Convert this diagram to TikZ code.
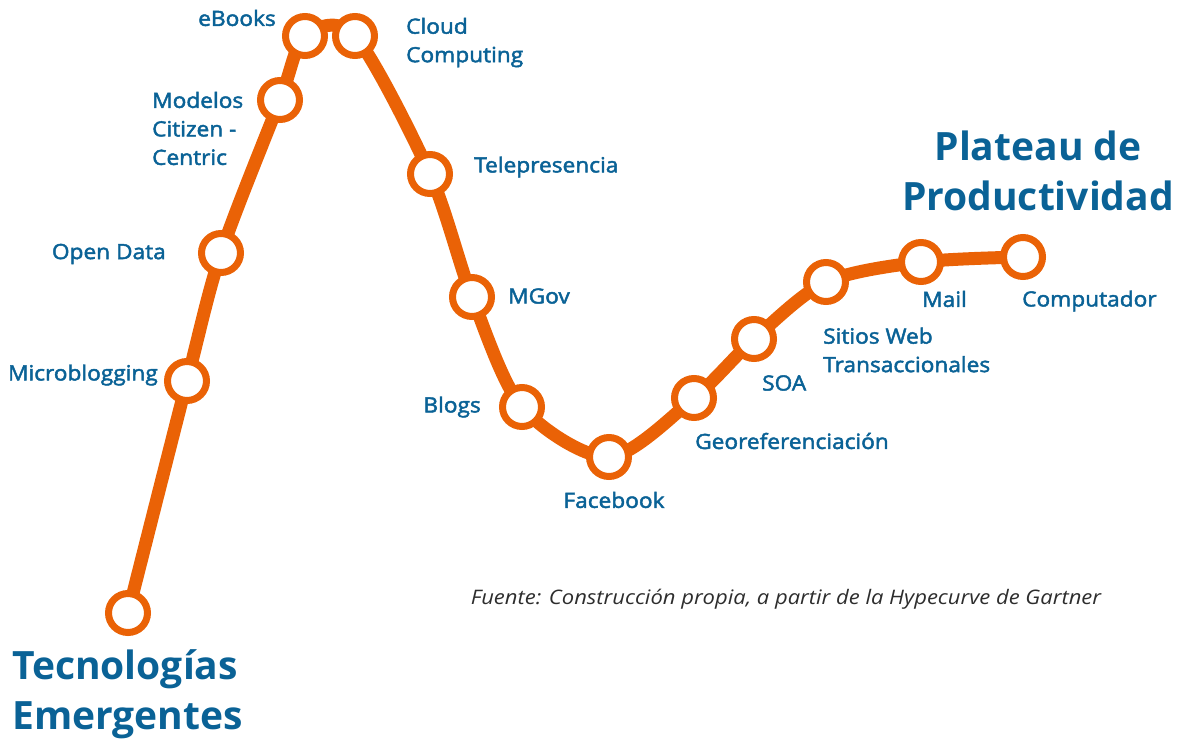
\documentclass[tikz,border=0pt]{standalone}
\usepackage{fontspec}
\setmainfont{Open Sans}
\newfontfamily\labfont{Open Sans}[FakeStretch=1.08, FakeBold=2.2]
\newfontfamily\titfont{Open Sans Bold}
\newfontfamily\srcfont{Open Sans Italic}[FakeStretch=1.1]
\usetikzlibrary{backgrounds}
\definecolor{hypeorange}{RGB}{234,98,6}
\definecolor{hypeblue}{RGB}{10,98,150}
\definecolor{srcgray}{RGB}{45,45,45}
\tikzset{
  stop/.style={circle, draw=hypeorange, line width=7pt, fill=white, minimum size=39pt, inner sep=0pt},
  lab/.style={text=hypeblue, font=\labfont\fontsize{21}{28.5}\selectfont, inner sep=0pt, align=left},
  tit/.style={text=hypeblue, font=\titfont\fontsize{39}{50}\selectfont, inner sep=0pt},
  curve/.style={draw=hypeorange, line width=13pt}
}
\begin{document}
\begin{tikzpicture}[x=1pt,y=-1pt]
\useasboundingbox (0,0) rectangle (1184,742);
% stops
\node[stop] (s0) at (128,613) {};
\node[stop] (s1) at (187,381) {};
\node[stop] (s2) at (221,253) {};
\node[stop] (s3) at (280,100) {};
\node[stop] (s4) at (305,36) {};
\node[stop] (s5) at (355,36) {};
\node[stop] (s6) at (430,174) {};
\node[stop] (s7) at (472,297) {};
\node[stop] (s8) at (522,407) {};
\node[stop] (s9) at (609,457) {};
\node[stop] (s10) at (694,398) {};
\node[stop] (s11) at (754,339) {};
\node[stop] (s12) at (826,282) {};
\node[stop] (s13) at (921,262) {};
\node[stop] (s14) at (1023,257) {};
\begin{pgfonlayer}{background}
\draw[curve] plot[smooth, tension=0.5] coordinates {(s0.center) (s1.center) (s2.center) (s3.center) (s4.center) (s5.center) (s6.center) (s7.center) (s8.center) (s9.center) (s10.center) (s11.center) (s12.center) (s13.center) (s14.center)};
\end{pgfonlayer}
% labels
\node[lab, anchor=east] (l4) at (276,18) {eBooks};
\node[lab, anchor=west] (l5) at (406,42.5) {Cloud\\Computing};
\node[lab, anchor=west] (l3) at (152,128.5) {Modelos\\Citizen -\\Centric};
\node[lab, anchor=east] (l2) at (166,254) {Open Data};
\node[lab, anchor=east] (l1) at (158,375) {Microblogging};
\node[lab, anchor=west] (l6) at (474,167) {Telepresencia};
\node[lab, anchor=west] (l7) at (508,296) {MGov};
\node[lab, anchor=east] (l8) at (481,407) {Blogs};
\node[lab] (l9) at (614,500) {Facebook};
\node[lab, anchor=west] (l10) at (695,441) {Georeferenciación};
\node[lab, anchor=west] (l11) at (762,383) {SOA};
\node[lab, anchor=west] (l12) at (823,350) {Sitios Web\\Transaccionales};
\node[lab, anchor=west] (l13) at (922,299) {Mail};
\node[lab, anchor=west] (l14) at (1022,301) {Computador};
\node[tit, align=center] (t1) at (1038,171) {Plateau de\\Productividad};
\node[tit, align=left, anchor=west] (t0) at (12,694.5) {Tecnologías\\Emergentes};
\node[text=srcgray, font=\srcfont\fontsize{20}{24}\selectfont, inner sep=0pt] (src) at (786,599) {Fuente: Construcción propia, a partir de la Hypecurve de Gartner};
\end{tikzpicture}
\end{document}
